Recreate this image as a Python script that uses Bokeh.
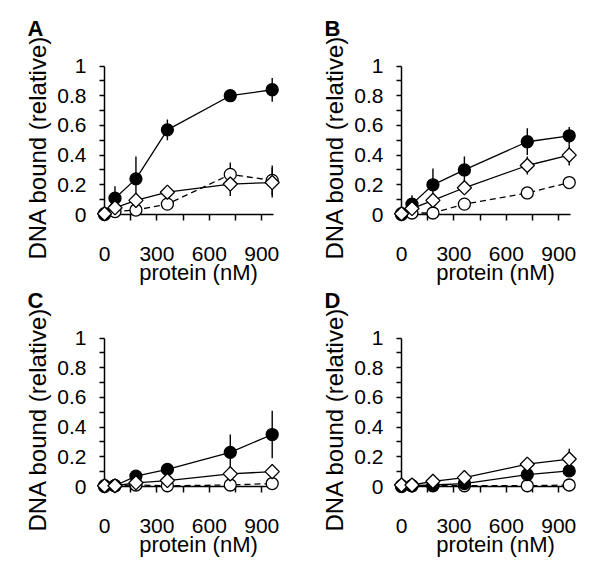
from bokeh.plotting import figure
from bokeh.layouts import gridplot
from bokeh.models import (ColumnDataSource, Whisker, FixedTicker, NumeralTickFormatter,
                          Range1d, Label, LinearAxis)
from bokeh.embed import file_html
from bokeh.resources import INLINE
import numpy as np

# protein concentration (nM)
conc = [0, 60, 180, 360, 720, 960]

# Panel A
a_filled = [0.0, 0.11, 0.24, 0.57, 0.80, 0.84]
a_filled_err = [0.0, 0.08, 0.15, 0.07, 0.04, 0.08]
a_diamond = [0.005, 0.045, 0.095, 0.15, 0.205, 0.215]
a_diamond_err = [0.0, 0.02, 0.04, 0.04, 0.08, 0.10]
a_open = [0.005, 0.02, 0.03, 0.07, 0.27, 0.23]
a_open_err = [0.0, 0.01, 0.01, 0.02, 0.08, 0.10]

# Panel B
b_filled = [0.0, 0.07, 0.20, 0.30, 0.49, 0.53]
b_filled_err = [0.0, 0.06, 0.11, 0.09, 0.09, 0.06]
b_diamond = [0.005, 0.04, 0.095, 0.18, 0.33, 0.40]
b_diamond_err = [0.0, 0.01, 0.02, 0.02, 0.06, 0.07]
b_open = [0.005, 0.01, 0.01, 0.07, 0.145, 0.215]
b_open_err = [0.0, 0.0, 0.0, 0.01, 0.01, 0.01]

# Panel C
c_filled = [0.0, 0.005, 0.07, 0.115, 0.23, 0.35]
c_filled_err = [0.0, 0.0, 0.01, 0.02, 0.12, 0.16]
c_diamond = [0.005, 0.005, 0.025, 0.04, 0.085, 0.10]
c_diamond_err = [0.0, 0.0, 0.01, 0.01, 0.05, 0.02]
c_open = [0.005, 0.005, 0.01, 0.005, 0.01, 0.02]
c_open_err = [0.0, 0.0, 0.0, 0.0, 0.0, 0.0]

# Panel D
d_filled = [0.0, 0.005, 0.01, 0.02, 0.08, 0.105]
d_filled_err = [0.0, 0.0, 0.005, 0.01, 0.03, 0.03]
d_diamond = [0.01, 0.01, 0.035, 0.06, 0.15, 0.185]
d_diamond_err = [0.0, 0.0, 0.01, 0.01, 0.04, 0.07]
d_open = [0.005, 0.005, 0.005, 0.005, 0.005, 0.01]
d_open_err = [0.0, 0.0, 0.0, 0.0, 0.0, 0.0]

x_major = [0, 300, 600, 900]
x_minor = [150, 300, 450, 600, 750, 900]
y_major = [0, 0.2, 0.4, 0.6, 0.8, 1.0]
y_minor = [0.1, 0.3, 0.5, 0.7, 0.9]

FONT = "Liberation Sans"

# layout geometry (pixels inside each figure)
PX_PER_NM = 0.1747
PX_PER_UNIT = 148.5
X0_PX = 104          # pixel column of 0 nM
Y0_PX_TOP = 214      # pixel row of y = 0 (top row)
Y0_PX_BOTTOM = 198   # pixel row of y = 0 (bottom row)


def add_series(p, vals, errs, marker, fill, dash, angle=0.0, size=12):
    lower = [v - e for v, e in zip(vals, errs)]
    upper = [v + e for v, e in zip(vals, errs)]
    src = ColumnDataSource(dict(x=conc, y=vals, lower=lower, upper=upper))
    w = Whisker(base="x", lower="lower", upper="upper", source=src,
                upper_head=None, lower_head=None, line_color="black", line_width=1.4)
    p.add_layout(w)
    p.line("x", "y", source=src, line_color="black", line_width=1.3, line_dash=dash)
    p.scatter("x", "y", source=src, marker=marker, size=size, angle=angle,
              fill_color=fill, line_color="black", line_width=1.3)


def style_text(ax, title_size="22px"):
    ax.major_label_text_font = FONT
    ax.major_label_text_font_size = "21px"
    ax.major_label_text_color = "black"
    ax.axis_label_text_font = FONT
    ax.axis_label_text_font_size = title_size
    ax.axis_label_text_font_style = "normal"
    ax.axis_label_text_color = "black"


def make_panel(letter, filled, ferr, diamond, derr, opn, oerr, width, height, y0_px):
    xr = Range1d(-X0_PX / PX_PER_NM, (width - X0_PX) / PX_PER_NM)
    yr = Range1d(-(height - y0_px) / PX_PER_UNIT, y0_px / PX_PER_UNIT)
    p = figure(width=width, height=height, output_backend="svg", toolbar_location=None,
               x_range=xr, y_range=yr, x_axis_location=None, y_axis_location=None,
               min_border_left=0, min_border_right=0, min_border_top=0, min_border_bottom=0)
    p.outline_line_color = None
    p.grid.visible = False

    # x axis at y = 0
    xa = LinearAxis(fixed_location=0, bounds=(-23, 967),
                    ticker=FixedTicker(ticks=x_major, minor_ticks=x_minor))
    xa.axis_line_color = "black"
    xa.axis_line_width = 1.5
    xa.major_tick_out = 0
    xa.major_tick_in = 0
    xa.minor_tick_out = 6
    xa.minor_tick_in = 0
    xa.minor_tick_line_color = "black"
    xa.minor_tick_line_width = 1.5
    xa.major_label_standoff = 26
    style_text(xa)
    xa.level = "underlay"
    p.add_layout(xa, "below")

    # tick-less companion axis that carries the x title
    xt = LinearAxis(fixed_location=0, bounds=(100, 980),
                    ticker=FixedTicker(ticks=[], minor_ticks=[]))
    xt.axis_line_color = None
    xt.major_tick_out = 0
    xt.major_tick_in = 0
    xt.minor_tick_out = 0
    xt.minor_tick_in = 0
    xt.major_label_standoff = 0
    style_text(xt)
    xt.axis_label = "protein (nM)"
    xt.axis_label_standoff = 45
    p.add_layout(xt, "below")

    # y axis at x = 0
    ya = LinearAxis(fixed_location=0, bounds=(0, 1),
                    ticker=FixedTicker(ticks=y_major, minor_ticks=y_minor),
                    formatter=NumeralTickFormatter(format="0.[0]"))
    ya.axis_line_color = "black"
    ya.axis_line_width = 1.5
    ya.major_tick_out = 5
    ya.major_tick_in = 0
    ya.minor_tick_out = 5
    ya.minor_tick_in = 0
    ya.major_tick_line_color = "black"
    ya.minor_tick_line_color = "black"
    ya.major_tick_line_width = 1.5
    ya.minor_tick_line_width = 1.5
    ya.major_label_standoff = 13
    style_text(ya)
    ya.level = "underlay"
    p.add_layout(ya, "left")

    # tick-less companion axis that carries the y title
    yt = LinearAxis(fixed_location=0, bounds=(0, 0.9),
                    ticker=FixedTicker(ticks=[], minor_ticks=[]))
    yt.axis_line_color = None
    yt.major_tick_out = 0
    yt.major_tick_in = 0
    yt.minor_tick_out = 0
    yt.minor_tick_in = 0
    yt.major_label_standoff = 0
    style_text(yt, title_size="24px")
    yt.axis_label = "DNA bound (relative)"
    yt.axis_label_standoff = 54
    p.add_layout(yt, "left")

    add_series(p, opn, oerr, "circle", "white", "6 4")
    add_series(p, filled, ferr, "circle", "black", "solid")
    add_series(p, diamond, derr, "square", "white", "solid", angle=np.pi / 4, size=10)

    lab = Label(x=0, y=1, x_offset=-77, y_offset=38, text=letter,
                text_font=FONT, text_font_size="22px", text_font_style="bold",
                text_color="black", text_align="left", text_baseline="alphabetic")
    p.add_layout(lab)
    return p


pa = make_panel("A", a_filled, a_filled_err, a_diamond, a_diamond_err, a_open, a_open_err, 297, 288, Y0_PX_TOP)
pb = make_panel("B", b_filled, b_filled_err, b_diamond, b_diamond_err, b_open, b_open_err, 300, 288, Y0_PX_TOP)
pc = make_panel("C", c_filled, c_filled_err, c_diamond, c_diamond_err, c_open, c_open_err, 297, 290, Y0_PX_BOTTOM)
pd = make_panel("D", d_filled, d_filled_err, d_diamond, d_diamond_err, d_open, d_open_err, 300, 290, Y0_PX_BOTTOM)

grid = gridplot([[pa, pb], [pc, pd]], toolbar_location=None)

open("out.html", "w").write(file_html(grid, INLINE))
